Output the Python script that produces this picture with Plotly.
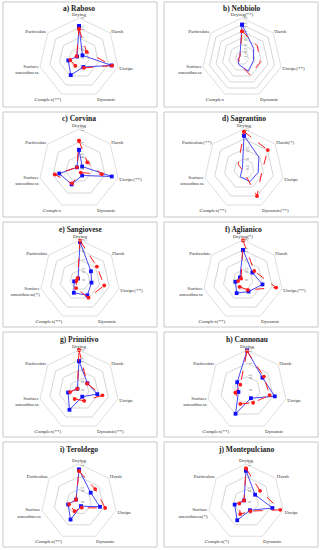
import plotly.graph_objects as go

W, H = 322, 550

AXES = ["Drying", "Harsh", "Unripe", "Dynamic", "Complex", "Surface<br>smoothness", "Particulate"]

TITLES = ["a) Raboso", "b) Nebbiolo", "c) Corvina", "d) Sagrantino", "e) Sangiovese",
          "f) Aglianico", "g) Primitivo", "h) Cannonau", "i) Teroldego", "j) Montepulciano"]

# significance marks appended to axis names, per panel
MARK_A = ["", "", "", "", "(**)", "", ""]
MARK_B = ["(**)", "", "(**)", "", "", "", ""]
MARK_C = ["", "", "(**)", "", "", "", ""]
MARK_D = ["", "(*)", "", "(**)", "(**)", "", "(**)"]
MARK_E = ["", "", "(**)", "", "(**)", "(*)", ""]
MARK_F = ["(*)", "", "(**)", "", "(**)", "", ""]
MARK_G = ["", "", "", "(**)", "(**)", "", ""]
MARK_H = ["", "", "", "", "(**)", "", ""]
MARK_I = ["", "", "", "", "(**)", "", ""]
MARK_J = ["", "", "", "", "(*)", "(*)", ""]

# values: Drying, Harsh, Unripe, Dynamic, Complex, Surface smoothness, Particulate
BLUE_A = [1.6, 0.22, 1.67, 0.5, 0.95, 0.55, 0.12]
RED_A = [1.45, 0.49, 1.7, 0.55, 0.43, 0.45, 0.15]
BLUE_B = [1.5, 0.12, -0.12, 0.1, -0.45, -0.7, -0.8]
RED_B = [1.0, 0.47, 0.4, 0.43, -0.55, -0.75, -0.8]
BLUE_C = [0.72, 0.15, 1.26, 0.27, 0.64, 0.76, 0.1]
RED_C = [1.06, 0.4, 0.88, 0.15, 0.6, 0.93, 0.1]
BLUE_D = [1.17, 0.45, 0.23, 0.2, -0.07, -0.4, -0.4]
RED_D = [1.37, 1.02, 0.4, 1.0, -0.4, -0.4, -0.13]
BLUE_E = [1.9, 0.7, 0.59, 0.85, 0.71, 0.3, 0.12]
RED_E = [1.97, 1.08, 1.24, 0.98, 0.45, 0.18, 0.15]
BLUE_F = [1.5, 0.6, 1.0, 0.64, 0.73, 0.39, 0.2]
RED_F = [1.98, 0.72, 1.7, 0.55, 0.38, 0.25, 0.12]
BLUE_G = [1.44, 0.54, 0.94, 0.37, 1.1, 0.56, 0.1]
RED_G = [2.0, 0.52, 1.2, 0.6, 0.5, 0.46, 0.1]
BLUE_H = [1.48, 0.74, 1.07, 0.34, 0.99, 0.33, 0.47]
RED_H = [1.46, 0.81, 0.87, 0.53, 0.58, 0.45, 0.32]
BLUE_I = [1.28, 0.59, 0.85, 0.18, 0.77, 0.44, 0.15]
RED_I = [1.22, 0.82, 1.06, 0.25, 0.4, 0.4, 0.15]
BLUE_J = [1.24, 0.46, 1.07, 0.36, 0.8, 0.46, 0.1]
RED_J = [1.33, 0.71, 1.39, 0.4, 0.53, 0.27, 0.1]

RANGES = [[0, 2], [-1, 2], [0, 1.5], [-0.5, 1.5], [0, 2],
          [0, 2], [0, 2], [0, 1.5], [0, 1.5], [0, 1.5]]

MARKS = [MARK_A, MARK_B, MARK_C, MARK_D, MARK_E, MARK_F, MARK_G, MARK_H, MARK_I, MARK_J]
BLUES = [BLUE_A, BLUE_B, BLUE_C, BLUE_D, BLUE_E, BLUE_F, BLUE_G, BLUE_H, BLUE_I, BLUE_J]
REDS = [RED_A, RED_B, RED_C, RED_D, RED_E, RED_F, RED_G, RED_H, RED_I, RED_J]

# layout (pixels): radar centre x, centre y, radius
GEOM = [(79, 58, 40), (242, 58, 40), (79, 169, 40), (244, 169, 40), (80, 280, 40),
        (243, 280, 40), (79, 390, 40), (247, 390, 40), (79, 502, 38), (246, 502, 38)]
BOX_X = [(3, 157), (164, 318)]
BOX_Y = [(2, 107), (112, 217), (222, 327), (332, 437), (442, 547)]

SERIF = "Liberation Serif, DejaVu Serif, serif"
BLUE = "#4646f5"
RED = "#ff1a1a"
GRID = "#d6d6d6"

fig = go.Figure()
layout = dict(width=W, height=H, margin=dict(l=0, r=0, t=0, b=0),
              paper_bgcolor="white", showlegend=False, shapes=[], annotations=[])

for i in range(10):
    key = "polar" if i == 0 else f"polar{i+1}"
    sub = "polar" if i == 0 else f"polar{i+1}"
    cats = [a + m for a, m in zip(AXES, MARKS[i])]
    theta = cats + [cats[0]]
    fig.add_trace(go.Scatterpolar(
        r=BLUES[i] + [BLUES[i][0]], theta=theta, subplot=sub, mode="lines+markers",
        line=dict(color=BLUE, width=1), marker=dict(symbol="square", size=3.8, color="#1010ff"),
        cliponaxis=False))
    fig.add_trace(go.Scatterpolar(
        r=REDS[i] + [REDS[i][0]], theta=theta, subplot=sub, mode="lines+markers",
        line=dict(color=RED, width=1, dash="dash"), marker=dict(symbol="circle", size=3.8, color=RED),
        cliponaxis=False))
    cx, cy, R = GEOM[i]
    layout[key] = dict(
        domain=dict(x=[(cx - R) / W, (cx + R) / W], y=[1 - (cy + R) / H, 1 - (cy - R) / H]),
        gridshape="linear", bgcolor="white",
        angularaxis=dict(rotation=90, direction="clockwise", showgrid=False,
                         linecolor=GRID, linewidth=0.8, ticks="",
                         tickfont=dict(family=SERIF, size=5, color="#333333"),
                         categoryorder="array", categoryarray=cats),
        radialaxis=dict(range=RANGES[i], dtick=0.5, angle=90, tickangle=0,
                        showline=False, gridcolor=GRID, gridwidth=0.8, ticks="",
                        tickfont=dict(family=SERIF, size=4, color="#444444")),
    )
    col, row = i % 2, i // 2
    x0, x1 = BOX_X[col]
    y0, y1 = BOX_Y[row]
    layout["shapes"].append(dict(type="rect", xref="paper", yref="paper",
                                 x0=x0 / W, x1=x1 / W, y0=1 - y1 / H, y1=1 - y0 / H,
                                 line=dict(color="#c8c8c8", width=1)))
    layout["annotations"].append(dict(text="<b>" + TITLES[i] + "</b>", xref="paper", yref="paper",
                                      x=cx / W, y=1 - (y0 + 7) / H, showarrow=False,
                                      xanchor="center", yanchor="middle",
                                      font=dict(family=SERIF, size=7.5, color="#222222")))

fig.update_layout(**layout)
fig.write_html("out.html", config={"displayModeBar": False},
               post_script="document.body.style.margin='0';document.body.style.overflow='hidden';")
